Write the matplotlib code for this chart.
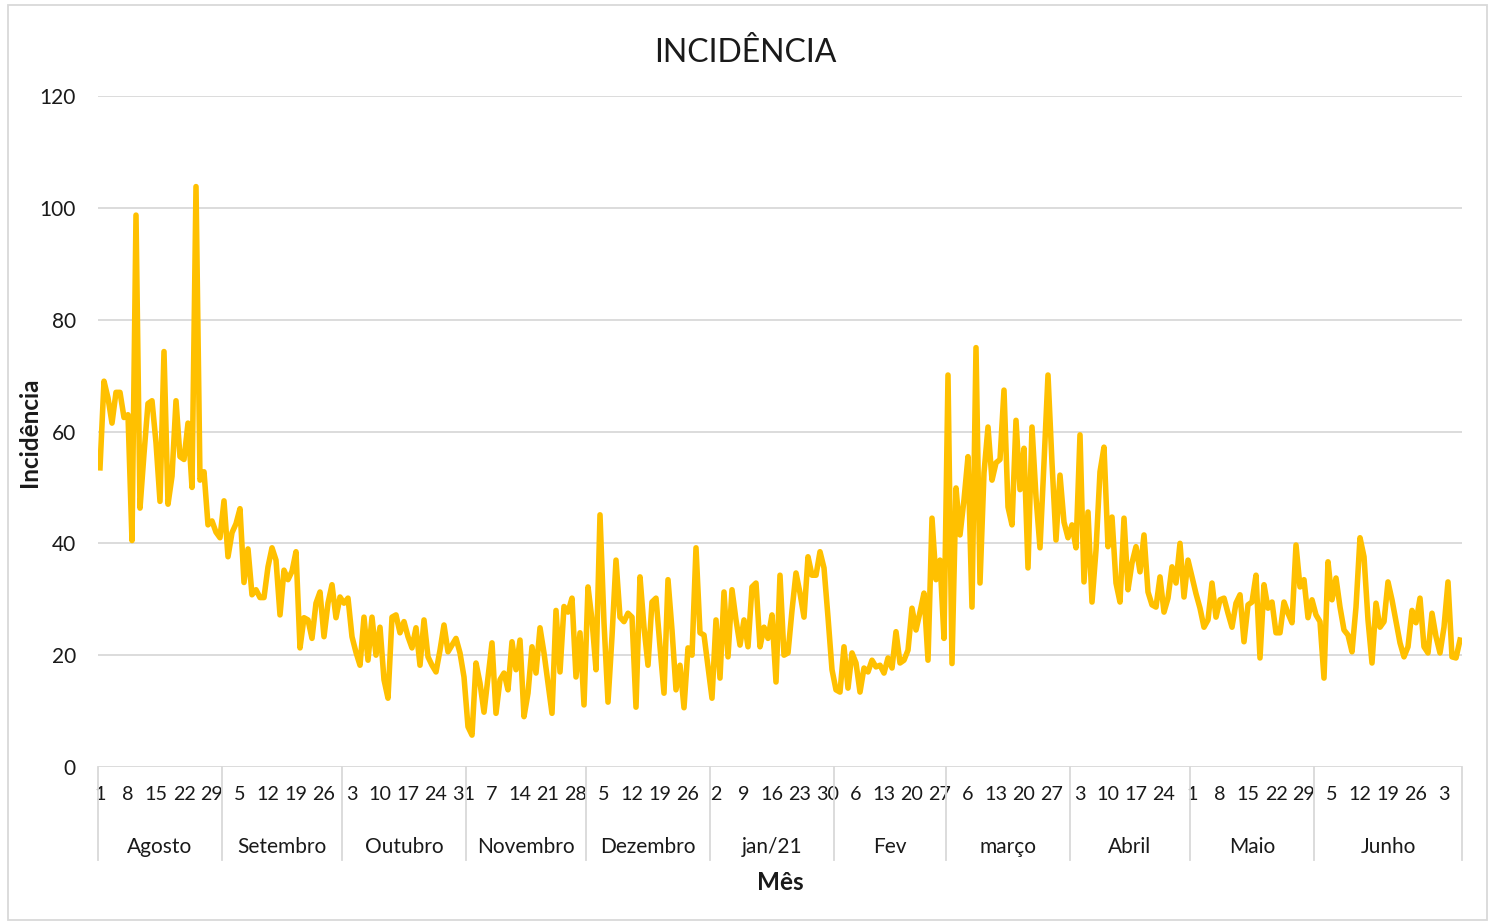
import matplotlib
matplotlib.use("Agg")
import matplotlib.pyplot as plt
import matplotlib.transforms as mtransforms
from matplotlib.patches import Rectangle

plt.rcParams['font.family'] = ['Lato', 'DejaVu Sans']

# daily incidence, 1 Aug 2020 .. 7 Jul 2021
ago = [53.5, 69, 66, 61.5, 67, 67, 62.5, 63, 40.5, 98.7, 46.3, 56, 65, 65.5, 58, 47.5,
       74.3, 47, 52, 65.5, 55.5, 55, 61.5, 50, 103.8, 51.3, 52.8, 43.3, 44, 42, 41]
set_ = [47.6, 37.6, 41.9, 43.5, 46.2, 33, 39, 30.8, 31.7, 30.3, 30.3, 35.8, 39.2, 37, 27.2,
        35.2, 33.5, 35, 38.5, 21.3, 26.7, 26.3, 23, 29.3, 31.3, 23.3, 29.3, 32.6, 26.7, 30.4]
out = [29.3, 30.2, 23.3, 20.5, 18.2, 26.8, 19.1, 26.8, 20, 25, 15.6, 12.3, 26.8, 27.2, 24, 26,
       23.3, 21.3, 24.9, 18.2, 26.3, 19.7, 18.2, 17, 20.9, 25.4, 20.6, 21.8, 23, 20.4, 16.1]
nov = [7.2, 5.7, 18.6, 15, 9.8, 16, 22.2, 9.6, 15.6, 16.8, 13.8, 22.4, 17.4, 22.7, 9, 13.2,
       21.5, 16.8, 24.9, 20.4, 15, 9.6, 28, 17, 28.7, 27.7, 30.2, 16.1, 24, 11.1]
dez = [32.2, 26.3, 17.4, 45.1, 25.8, 11.6, 23.3, 37, 26.8, 26, 27.5, 26.8, 10.7, 34, 25, 18.2,
       29.5, 30.2, 21.5, 13.2, 33.5, 24.5, 13.8, 18.2, 10.6, 21.3, 20, 39.2, 24, 23.6, 17.9]
jan = [12.3, 26.3, 15.9, 31.3, 19.7, 31.7, 26.3, 21.8, 26.3, 21.5, 32.2, 32.9, 21.5, 25, 23,
       27.2, 15.2, 34.3, 20, 20.4, 28, 34.7, 31.1, 26.8, 37.6, 34.3, 34.3, 38.5, 35.6, 26.8, 17.4]
fev = [13.8, 13.4, 21.5, 14.1, 20.4, 18.6, 13.4, 17.7, 17, 19.1, 17.9, 18.2, 16.8, 19.5, 17.7,
       24.2, 18.6, 19.1, 20.9, 28.4, 24.5, 27.7, 31.1, 19.1, 44.5, 33.5, 37, 23]
mar = [70.1, 18.5, 49.9, 41.5, 47.8, 55.5, 28.6, 75, 32.9, 52.6, 60.8, 51.3, 54.4, 55, 67.4,
       46.5, 43.3, 62, 49.6, 57, 35.6, 60.8, 48.3, 39.2, 54.4, 70.1, 54.4, 40.6, 52.2, 43.8, 41]
abr = [43.3, 39.2, 59.4, 33.1, 45.6, 29.5, 38.8, 52.8, 57.2, 39.4, 44.7, 32.9, 29.5, 44.5, 31.7,
       36.5, 39.4, 34.9, 41.5, 31.3, 29, 28.6, 34, 27.7, 30.2, 35.8, 32.9, 40, 30.4, 37]
mai = [34, 31, 28.4, 25, 26.3, 32.9, 26.8, 29.9, 30.2, 27.5, 25, 29.3, 30.8, 22.4, 29, 29.5,
       34.3, 19.5, 32.6, 28.4, 29.5, 24, 24, 29.5, 27.5, 25.8, 39.7, 32.2, 33.5, 26.7, 29.9]
jun = [27.2, 26, 15.9, 36.7, 29.9, 33.8, 28.6, 24.5, 23.6, 20.6, 28.6, 41, 37.6, 26.3, 18.6,
       29.3, 25, 26, 33.1, 29.9, 26, 22.2, 19.7, 21.5, 28, 25.8, 30.2, 21.5, 20.4, 27.5, 23.3,
       20.4, 25, 33.1, 19.7, 19.5, 22.7]  # includes first days of July

months = ["Agosto", "Setembro", "Outubro", "Novembro", "Dezembro", "jan/21",
          "Fev", "março", "Abril", "Maio", "Junho"]
series = [ago, set_, out, nov, dez, jan, fev, mar, abr, mai, jun]

day_labels = ["1", "8", "15", "22", "29", "5", "12", "19", "26", "3", "10", "17", "24", "31",
              "7", "14", "21", "28", "5", "12", "19", "26", "2", "9", "16", "23", "30",
              "6", "13", "20", "27", "6", "13", "20", "27", "3", "10", "17", "24",
              "1", "8", "15", "22", "29", "5", "12", "19", "26", "3"]

values = [v for m in series for v in m]
n = len(values)
xs = list(range(n))

fig = plt.figure(figsize=(14.9, 9.23), dpi=100)
ax = fig.add_axes([98 / 1490, 1 - 767 / 923, (1462 - 98) / 1490, (767 - 96) / 923])

ax.plot(xs, values, color="#FFC000", lw=4.0, solid_joinstyle="round", zorder=3)

ax.set_xlim(-0.5, n - 0.5)
ax.set_ylim(0, 120)
ax.set_yticks(range(0, 121, 20))
ax.yaxis.grid(True, color="#d9d9d9", lw=1.3)
ax.set_axisbelow(True)
for s in ax.spines.values():
    s.set_visible(False)
ax.tick_params(axis="y", length=0, pad=16, labelsize=15, labelcolor="#1a1a1a")

# day ticks every 7 days
ax.set_xticks(range(0, n, 7)[:len(day_labels)])
ax.set_xticklabels(day_labels)
ax.tick_params(axis="x", length=0, pad=14, labelsize=14.2, labelcolor="#1a1a1a")

# month groups
trans = mtransforms.blended_transform_factory(ax.transData, ax.transAxes)
bounds = [0]
for m in series:
    bounds.append(bounds[-1] + len(m))
for b in bounds:
    ax.plot([b - 0.5, b - 0.5], [0, -0.139], transform=trans, color="#d9d9d9", lw=1.3,
            clip_on=False)
for name, a, b in zip(months, bounds[:-1], bounds[1:]):
    ax.text((a + b) / 2 - 0.5, -0.128, name, transform=trans,
            ha="center", va="baseline", fontsize=15, color="#1a1a1a")

ax.text(0.5, -0.183, "Mês", transform=ax.transAxes, ha="center", va="baseline",
        fontsize=17.5, fontweight="bold", color="#1a1a1a")
fig.text(30 / 1490, 1 - 432 / 923, "Incidência", rotation=90, ha="center", va="center",
         fontsize=17.5, fontweight="bold", color="#1a1a1a")
fig.text(0.5, 1 - 62 / 923, "INCIDÊNCIA", ha="center", va="baseline", fontsize=23,
         color="#1a1a1a")

fig.patches.append(Rectangle((8 / 1490, 3 / 923), 1479 / 1490, 915 / 923, transform=fig.transFigure,
                             fill=False, edgecolor="#d9d9d9", lw=1.3))

fig.savefig("out.png", dpi=100)
